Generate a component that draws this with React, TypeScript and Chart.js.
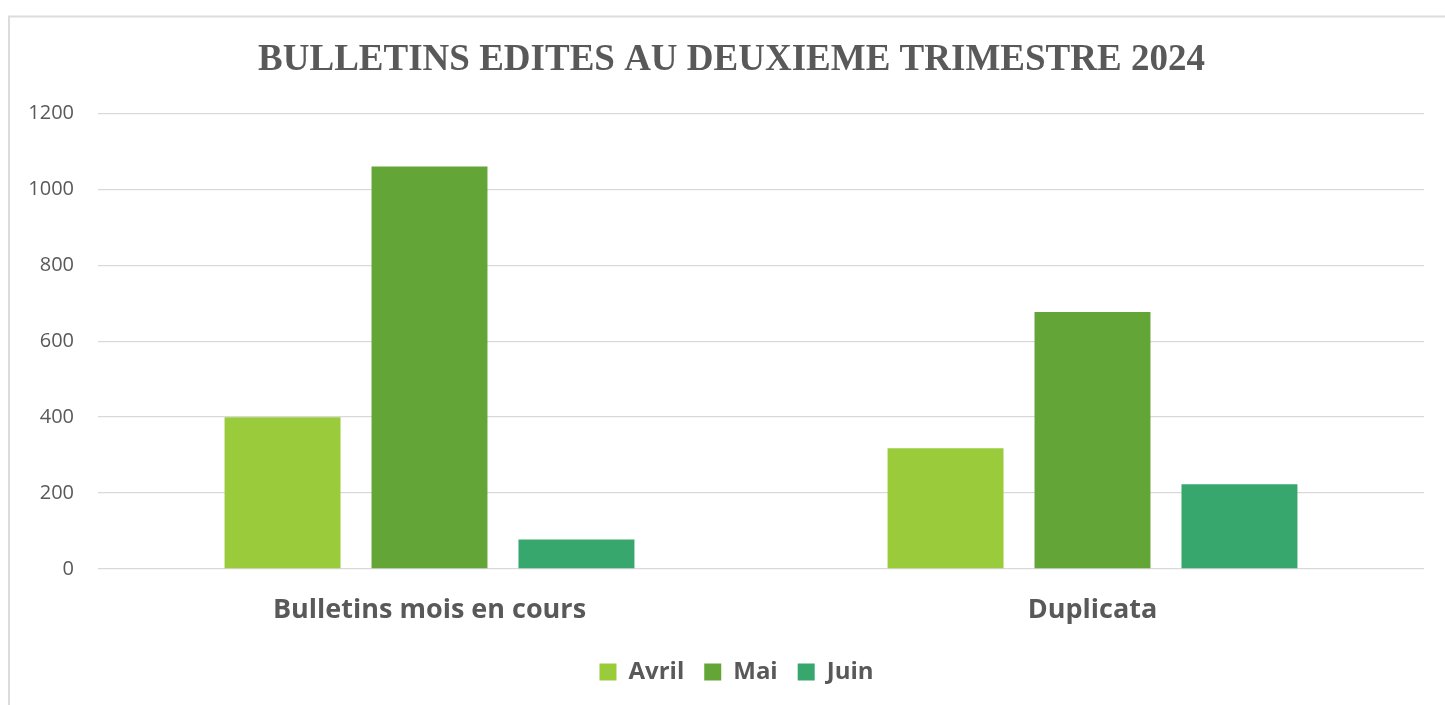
import React, { useEffect, useRef } from "react";
import { Chart, registerables } from "chart.js";

Chart.register(...registerables);

const TITLE = "BULLETINS EDITES AU DEUXIEME TRIMESTRE 2024";
const categories = ["Bulletins mois en cours", "Duplicata"];
const seriesNames = ["Avril", "Mai", "Juin"];
const avril = [400, 318];
const mai = [1060, 677];
const juin = [78, 223];
const seriesColors = ["#9acb3a", "#64a537", "#37a76e"];
const yTicks = [0, 200, 400, 600, 800, 1000, 1200];

const frame = {
  id: "frame",
  beforeDraw(chart: any) {
    const { ctx, width, height } = chart;
    ctx.save();
    ctx.fillStyle = "#ffffff";
    ctx.fillRect(0, 0, width, height);
    ctx.strokeStyle = "#dcdcdc";
    ctx.lineWidth = 2;
    ctx.beginPath();
    ctx.moveTo(9, height + 5);
    ctx.lineTo(9, 16.5);
    ctx.lineTo(width + 5, 16.5);
    ctx.stroke();
    ctx.restore();
  },
  afterLayout(chart: any) {
    // center title and legend within the framed box rather than the canvas
    if (chart.titleBlock) {
      chart.titleBlock.left = 39;
      chart.titleBlock.right = 1424;
    }
    if (chart.legend) {
      chart.legend.left = 24;
      chart.legend.right = 1449;
    }
  },
};

export default function App() {
  const ref = useRef<HTMLCanvasElement>(null);
  useEffect(() => {
    if (!ref.current) return;
    const values = [avril, mai, juin];
    const chart = new Chart(ref.current, {
      type: "bar",
      data: {
        labels: categories,
        datasets: seriesNames.map((name, i) => ({
          label: name,
          data: values[i],
          backgroundColor: seriesColors[i],
          borderWidth: 0,
          categoryPercentage: 0.665,
          barPercentage: 0.789,
        })),
      },
      options: {
        animation: false,
        responsive: false,
        maintainAspectRatio: false,
        layout: { padding: { left: 0, right: 21, top: 16, bottom: 11 } },
        plugins: {
          title: {
            display: true,
            text: TITLE,
            color: "#595959",
            font: { family: "'Liberation Serif', 'Times New Roman', serif", size: 37, weight: "bold" },
            padding: { top: 22, bottom: 31 },
          },
          legend: {
            position: "bottom",
            labels: {
              color: "#595959",
              font: { family: "'Open Sans', sans-serif", size: 24, weight: "bold" },
              boxWidth: 17,
              boxHeight: 17,
              padding: 20,
            },
          },
          tooltip: { enabled: false },
        },
        scales: {
          x: {
            grid: { display: false, drawTicks: false },
            border: { display: false },
            ticks: {
              color: "#595959",
              padding: 25,
              font: { family: "'Open Sans', sans-serif", size: 27, weight: "bold" },
            },
            afterFit(scale: any) {
              scale.height = 71;
            },
          },
          y: {
            min: 0,
            max: 1200,
            afterBuildTicks(scale: any) {
              scale.ticks = yTicks.map((v) => ({ value: v }));
            },
            grid: { color: "#d9d9d9", lineWidth: 1.3, drawTicks: false },
            border: { display: false },
            ticks: {
              color: "#595959",
              padding: 24,
              font: { family: "'Open Sans', sans-serif", size: 20 },
              callback: (v: any) => String(v),
            },
            afterFit(scale: any) {
              scale.width = 98;
            },
          },
        },
      },
      plugins: [frame],
    });
    return () => chart.destroy();
  }, []);
  return (
    <div style={{ position: "fixed", left: 0, top: 0, width: 1445, height: 705, overflow: "hidden", background: "#fff" }}>
      <canvas ref={ref} width={1445} height={705} style={{ display: "block", width: 1445, height: 705 }} />
    </div>
  );
}
